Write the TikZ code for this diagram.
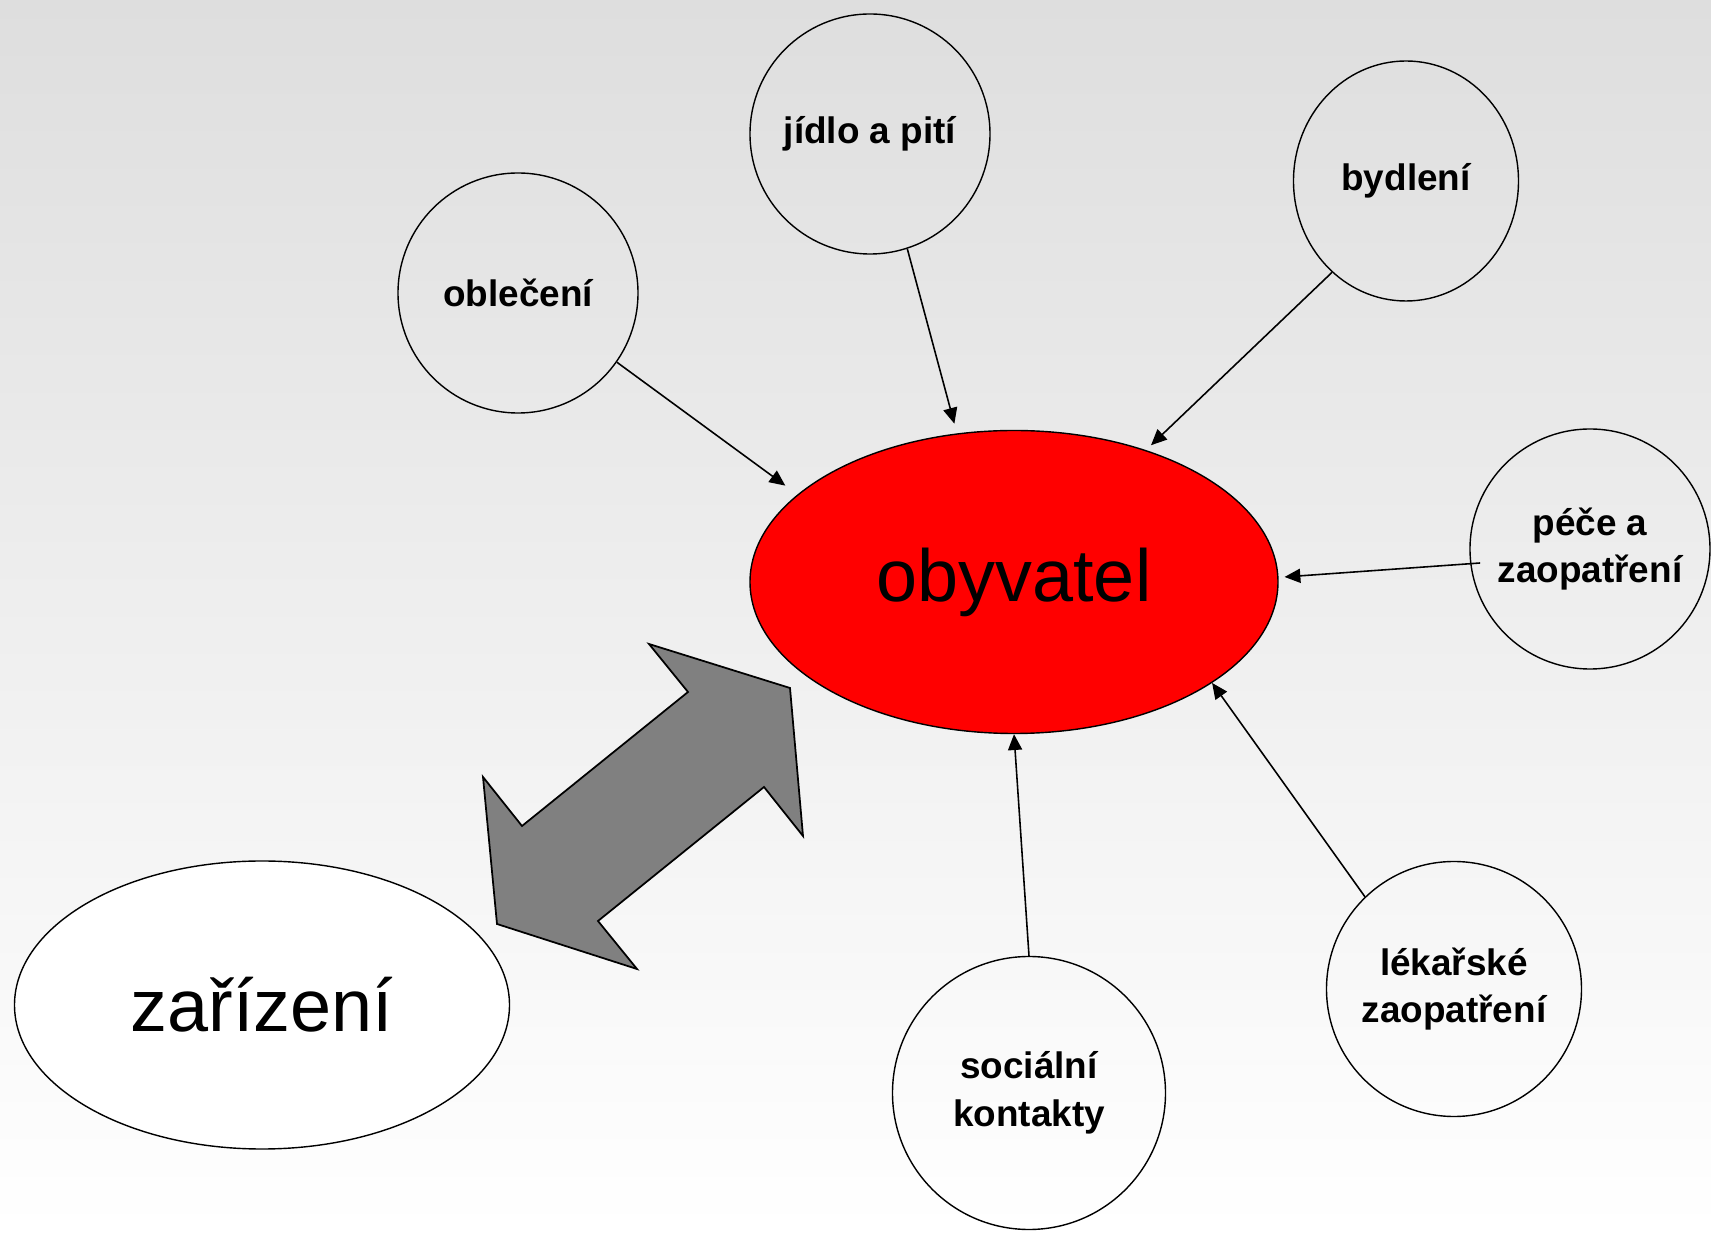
\documentclass[tikz,border=0pt]{standalone}
\usepackage{fontspec}
\setmainfont{Liberation Sans}
\usepackage{tikz}
\usetikzlibrary{arrows.meta}
\usetikzlibrary{shapes.geometric}

\definecolor{bgtop}{RGB}{222,222,222}
\definecolor{blockgray}{RGB}{128,128,128}

\tikzset{
  topic/.style={draw, circle, line width=0.4pt, minimum size=2.4cm, inner sep=0pt,
                align=center, font=\fontsize{10.5}{13.6}\selectfont\bfseries},
  hub/.style={draw, ellipse, line width=0.4pt, inner sep=0pt,
              font=\fontsize{21}{25}\selectfont},
  link/.style={-{Triangle[length=4.5pt,width=4pt]}, line width=0.45pt},
}

\begin{document}
\begin{tikzpicture}
  \useasboundingbox (0,0) rectangle (17.11,12.32);
  % Background
  \shade[top color=bgtop, bottom color=white] (0,0) rectangle (17.11,12.32);

  % Centre and facility
  \node[hub, fill=red, minimum width=5.28cm, minimum height=3.03cm] (obyvatel) at (10.14,6.50) {obyvatel};
  \node[hub, fill=white, minimum width=4.95cm, minimum height=2.88cm] (zarizeni) at (2.62,2.27) {zařízení};

  % Needs
  \node[topic]                                              (obleceni)  at (5.18,9.39)  {oblečení};
  \node[topic]                                              (jidlo)     at (8.70,10.98) {jídlo a pití};
  \node[topic, ellipse, minimum width=2.25cm]               (bydleni)   at (14.06,10.51) {bydlení};
  \node[topic]                                              (pece)      at (15.90,6.83) {péče a\\zaopatření};
  \node[topic, minimum size=2.55cm]                         (lekarske)  at (14.54,2.43) {lékařské\\zaopatření};
  \node[topic, minimum size=2.73cm]                         (socialni)  at (10.29,1.39) {sociální\\kontakty};

  % Connectors
  \draw[link, shorten >=0.15cm]                 (obleceni.-35.9) -- (obyvatel.158.9);
  \draw[link, shorten >=0.10cm]                 (jidlo.-72.2)    -- (obyvatel.111.4);
  \draw[link, shorten >=0.07cm]                 (bydleni.-129.7) -- (obyvatel.45);
  \draw[link, shorten >=0.06cm, shorten <=-0.1cm] (pece.187.3)   -- (obyvatel.1.3);
  \draw[link]                                   (lekarske.134.7) -- (obyvatel.-27.4);
  \draw[link]                                   (socialni.90.8)  -- (obyvatel.-90.8);

  % Double block arrow
  \draw[fill=blockgray, line width=0.5pt, line join=miter]
    (6.49,5.88) -- (7.90,5.44) -- (8.03,3.96) -- (7.64,4.45) -- (5.98,3.11)
    -- (6.37,2.63) -- (4.97,3.08) -- (4.83,4.55) -- (5.22,4.06) -- (6.88,5.40) -- cycle;
\end{tikzpicture}
\end{document}
